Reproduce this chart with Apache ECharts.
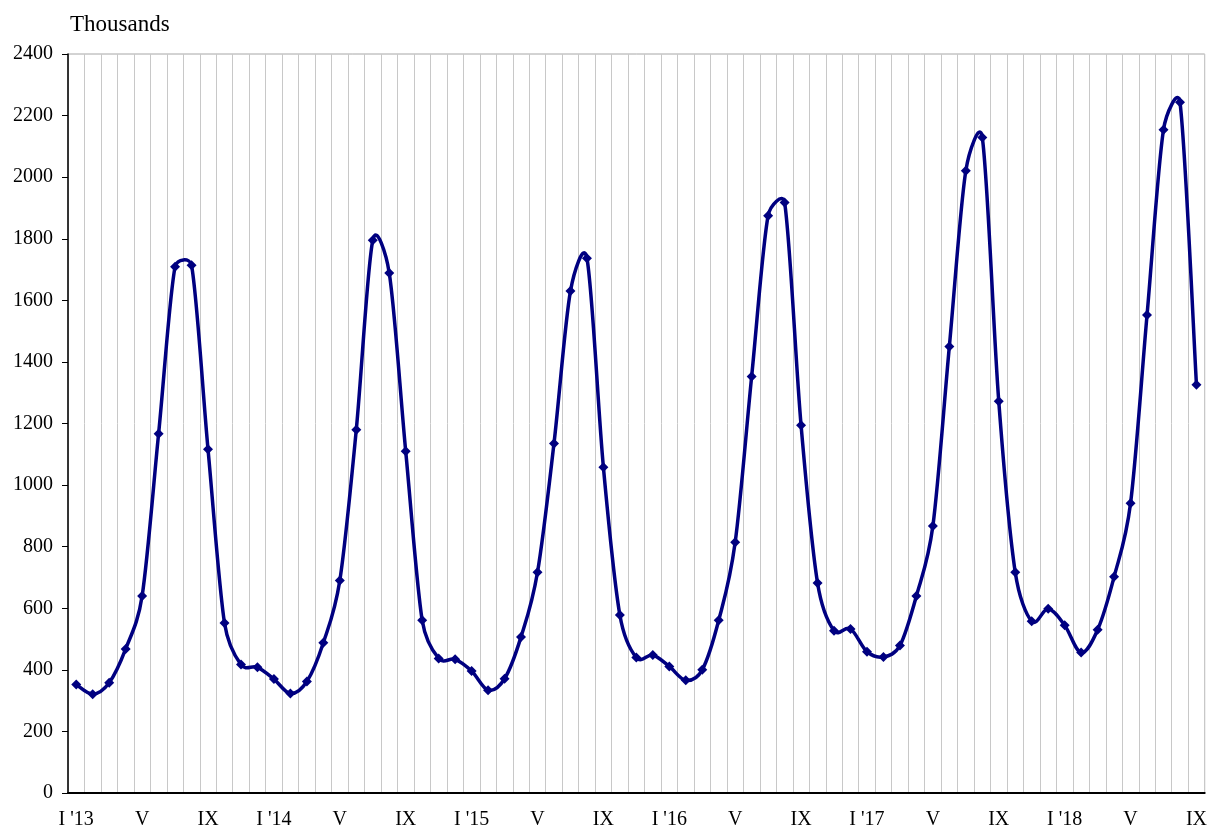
<!DOCTYPE html>
<html>
<head>
<meta charset="utf-8">
<script src="https://cdn.jsdelivr.net/npm/echarts@6/dist/echarts.min.js"></script>
<style>html,body{margin:0;padding:0;background:#fff}#c{width:1210px;height:830px}</style>
</head>
<body>
<div id="c"></div>
<script>
const romanMonths = ['I','II','III','IV','V','VI','VII','VIII','IX','X','XI','XII'];
const years = ['13','14','15','16','17','18'];
const categories = [];
years.forEach(y => romanMonths.forEach((m, i) => {
  if (categories.length < 69) categories.push(i === 0 ? m + " '" + y : m);
}));
const values = [
  352, 321, 358, 468, 640, 1167, 1709, 1714, 1116, 552, 417, 408,
  370, 323, 362, 488, 690, 1180, 1795, 1689, 1110, 561, 437, 434,
  396, 334, 371, 507, 717, 1135, 1630, 1737, 1058, 578, 440, 448,
  411, 366, 400, 561, 814, 1353, 1875, 1918, 1194, 682, 527, 533,
  459, 442, 479, 640, 867, 1450, 2021, 2129, 1272, 717, 558, 598,
  545, 456, 530, 702, 941, 1552, 2154, 2243, 1326
];
const yTicks = { min: 0, max: 2400, interval: 200 };
const unitLabel = 'Thousands';

const chart = echarts.init(document.getElementById('c'), null, { renderer: 'canvas' });
const font = 'Liberation Serif, Times New Roman, serif';

function dist(a, b) { return Math.hypot(b[0] - a[0], b[1] - a[1]); }

// Spreadsheet-style smoothed line; positions come from the axes via api.coord
function renderSmooth(params, api) {
  const pts = values.map((v, i) => api.coord([i, v]));
  let d = 'M' + pts[0][0] + ' ' + pts[0][1];
  for (let i = 0; i < pts.length - 1; i++) {
    const p0 = pts[i - 1] || pts[i];
    const p1 = pts[i];
    const p2 = pts[i + 1];
    const p3 = pts[i + 2] || pts[i + 1];
    const d12 = dist(p1, p2);
    const d02 = dist(p0, p2) || 1;
    const d13 = dist(p1, p3) || 1;
    const f1 = Math.min(1 / 6, 0.5 * d12 / d02);
    const f2 = Math.min(1 / 6, 0.5 * d12 / d13);
    const c1x = p1[0] + (p2[0] - p0[0]) * f1, c1y = p1[1] + (p2[1] - p0[1]) * f1;
    const c2x = p2[0] - (p3[0] - p1[0]) * f2, c2y = p2[1] - (p3[1] - p1[1]) * f2;
    d += ' C' + c1x + ' ' + c1y + ' ' + c2x + ' ' + c2y + ' ' + p2[0] + ' ' + p2[1];
  }
  return {
    type: 'path',
    shape: { pathData: d },
    style: { fill: null, stroke: '#000080', lineWidth: 3.5, lineJoin: 'round', lineCap: 'round' }
  };
}

chart.setOption({
  animation: false,
  backgroundColor: '#fff',
  grid: { left: 68, right: 5, top: 54, bottom: 37, show: true, borderColor: '#a6a6a6', borderWidth: 1 },
  graphic: [{ type: 'text', left: 70, top: 13, style: { text: unitLabel, font: '23px ' + font, fill: '#000' } }],
  xAxis: {
    type: 'category',
    data: categories,
    boundaryGap: true,
    axisLine: { lineStyle: { color: '#000', width: 2 } },
    axisTick: { show: false },
    axisLabel: {
      interval: (i) => i % 4 === 0,
      color: '#000', fontFamily: font, fontSize: 20, margin: 17
    },
    splitLine: { show: true, interval: 0, lineStyle: { color: '#c8c8c8', width: 1 } }
  },
  yAxis: {
    type: 'value',
    min: yTicks.min, max: yTicks.max, interval: yTicks.interval,
    axisLine: { show: true, lineStyle: { color: '#000', width: 1.5 } },
    axisTick: { show: true, length: 6, lineStyle: { color: '#000' } },
    axisLabel: { color: '#000', fontFamily: font, fontSize: 20, margin: 15, formatter: (v) => String(v) },
    splitLine: { show: false }
  },
  series: [
    {
      type: 'custom',
      data: [[0, 0]],
      renderItem: renderSmooth,
      silent: true,
      z: 2
    },
    {
      type: 'line',
      data: values,
      symbol: 'diamond',
      symbolSize: 10,
      itemStyle: { color: '#000080' },
      lineStyle: { width: 0, opacity: 0 },
      z: 3
    }
  ]
});
</script>
</body>
</html>
